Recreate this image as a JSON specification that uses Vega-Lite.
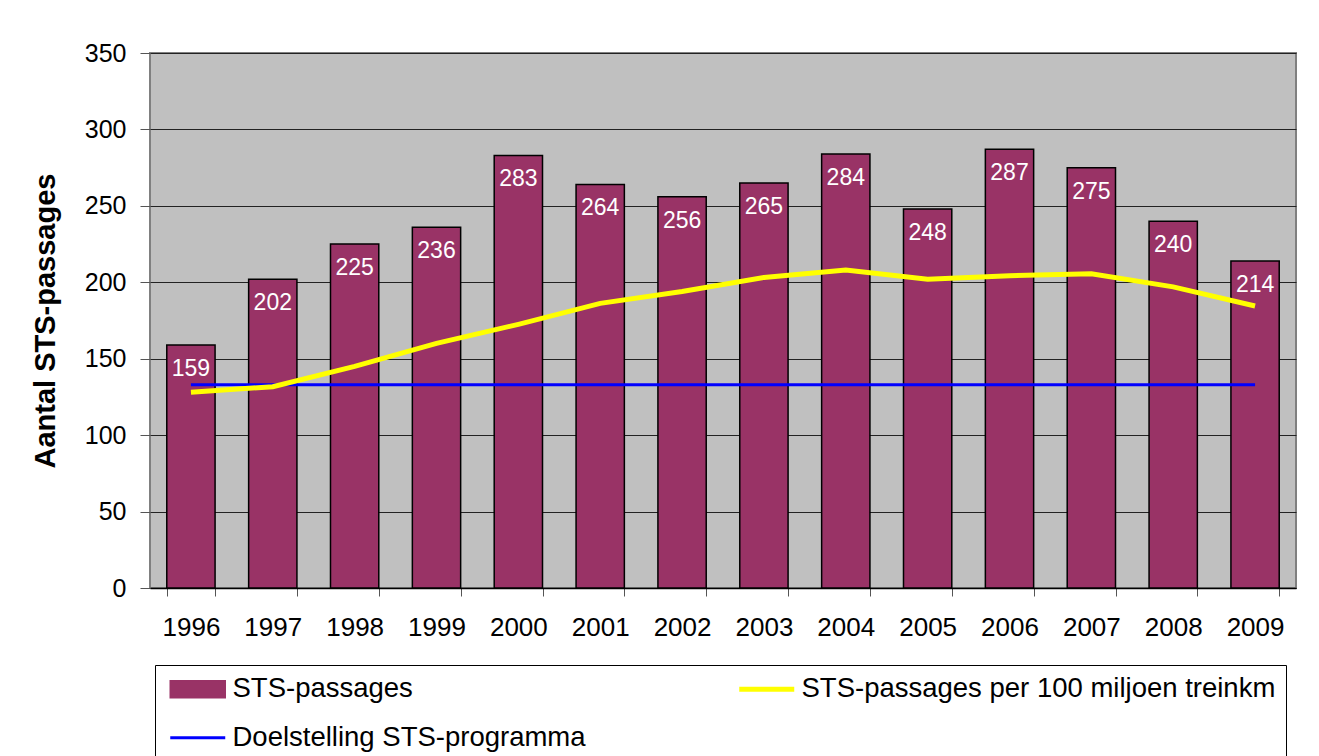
{
  "$schema": "https://vega.github.io/schema/vega-lite/v6.json",
  "width": 1146,
  "height": 535,
  "autosize": {"type": "none"},
  "padding": {"left": 150, "top": 53, "right": 23, "bottom": 168},
  "background": "white",
  "config": {
    "font": "Liberation Sans",
    "view": {"fill": "#c0c0c0", "stroke": "#808080", "strokeWidth": 2}
  },
  "data": {
    "values": [
      {"year": "1996", "passages": 159, "per100": 128, "doel": 133},
      {"year": "1997", "passages": 202, "per100": 131.7, "doel": 133},
      {"year": "1998", "passages": 225, "per100": 145, "doel": 133},
      {"year": "1999", "passages": 236, "per100": 160, "doel": 133},
      {"year": "2000", "passages": 283, "per100": 172.5, "doel": 133},
      {"year": "2001", "passages": 264, "per100": 186.2, "doel": 133},
      {"year": "2002", "passages": 256, "per100": 194, "doel": 133},
      {"year": "2003", "passages": 265, "per100": 203.2, "doel": 133},
      {"year": "2004", "passages": 284, "per100": 208, "doel": 133},
      {"year": "2005", "passages": 248, "per100": 202, "doel": 133},
      {"year": "2006", "passages": 287, "per100": 204.3, "doel": 133},
      {"year": "2007", "passages": 275, "per100": 205.6, "doel": 133},
      {"year": "2008", "passages": 240, "per100": 197, "doel": 133},
      {"year": "2009", "passages": 214, "per100": 184.5, "doel": 133}
    ]
  },
  "encoding": {
    "x": {
      "field": "year",
      "type": "nominal",
      "scale": {"paddingInner": 0.41, "paddingOuter": 0.205},
      "axis": {
        "title": null,
        "labelAngle": 0,
        "labelFontSize": 26,
        "labelColor": "black",
        "labelPadding": 18,
        "tickBand": "extent",
        "tickSize": 8,
        "tickColor": "#555555",
        "domainColor": "black",
        "domainWidth": 1.5,
        "grid": false
      }
    }
  },
  "layer": [
    {
      "mark": {"type": "bar", "stroke": "black", "strokeWidth": 1.5},
      "encoding": {
        "y": {
          "field": "passages",
          "type": "quantitative",
          "scale": {"domain": [0, 350]},
          "axis": {
            "title": "Aantal STS-passages",
            "titleFontSize": 29,
            "titleFontWeight": "bold",
            "titleColor": "black",
            "titlePadding": 24,
            "values": [0, 50, 100, 150, 200, 250, 300, 350],
            "labelFontSize": 25,
            "labelColor": "black",
            "labelPadding": 14,
            "tickSize": 10,
            "tickColor": "#555555",
            "domain": false,
            "grid": true,
            "gridColor": "#222222",
            "gridWidth": 1
          }
        },
        "color": {
          "datum": "STS-passages",
          "type": "nominal",
          "scale": {
            "domain": ["STS-passages", "STS-passages per 100 miljoen treinkm", "Doelstelling STS-programma"],
            "range": ["#993366", "#ffff00", "#0000ff"]
          },
          "legend": {
            "orient": "none",
            "legendX": 5,
            "legendY": 612,
            "direction": "horizontal",
            "columns": 2,
            "title": null,
            "symbolSize": 289,
            "symbolType": {"expr": "datum.value === 'STS-passages' ? 'M-1,-1H5.47V1H-1Z' : 'M-1,0H5.47'"},
            "symbolStrokeWidth": {"expr": "datum.value === 'STS-passages' ? 1.5 : (datum.value === 'Doelstelling STS-programma' ? 3 : 5)"},
            "symbolStrokeColor": {"expr": "datum.value === 'STS-passages' ? '#000000' : (datum.value === 'Doelstelling STS-programma' ? '#0000ff' : '#ffff00')"},
            "symbolOpacity": 1,
            "labelFontSize": 27.5,
            "labelFont": "Liberation Sans",
            "labelColor": "black",
            "labelLimit": 700,
            "labelOffset": 40,
            "strokeColor": "black",
            "fillColor": "white",
            "padding": 10,
            "columnPadding": 143,
            "rowPadding": 20
          }
        }
      }
    },
    {
      "mark": {"type": "text", "baseline": "top", "dy": 13, "fontSize": 23, "color": "white"},
      "encoding": {
        "y": {"field": "passages", "type": "quantitative"},
        "text": {"field": "passages", "type": "quantitative"}
      }
    },
    {
      "mark": {"type": "line", "strokeWidth": 3},
      "encoding": {
        "y": {"field": "doel", "type": "quantitative"},
        "color": {"datum": "Doelstelling STS-programma", "type": "nominal", "legend": null}
      }
    },
    {
      "mark": {"type": "line", "strokeWidth": 5},
      "encoding": {
        "y": {"field": "per100", "type": "quantitative"},
        "color": {"datum": "STS-passages per 100 miljoen treinkm", "type": "nominal", "legend": null}
      }
    }
  ]
}
